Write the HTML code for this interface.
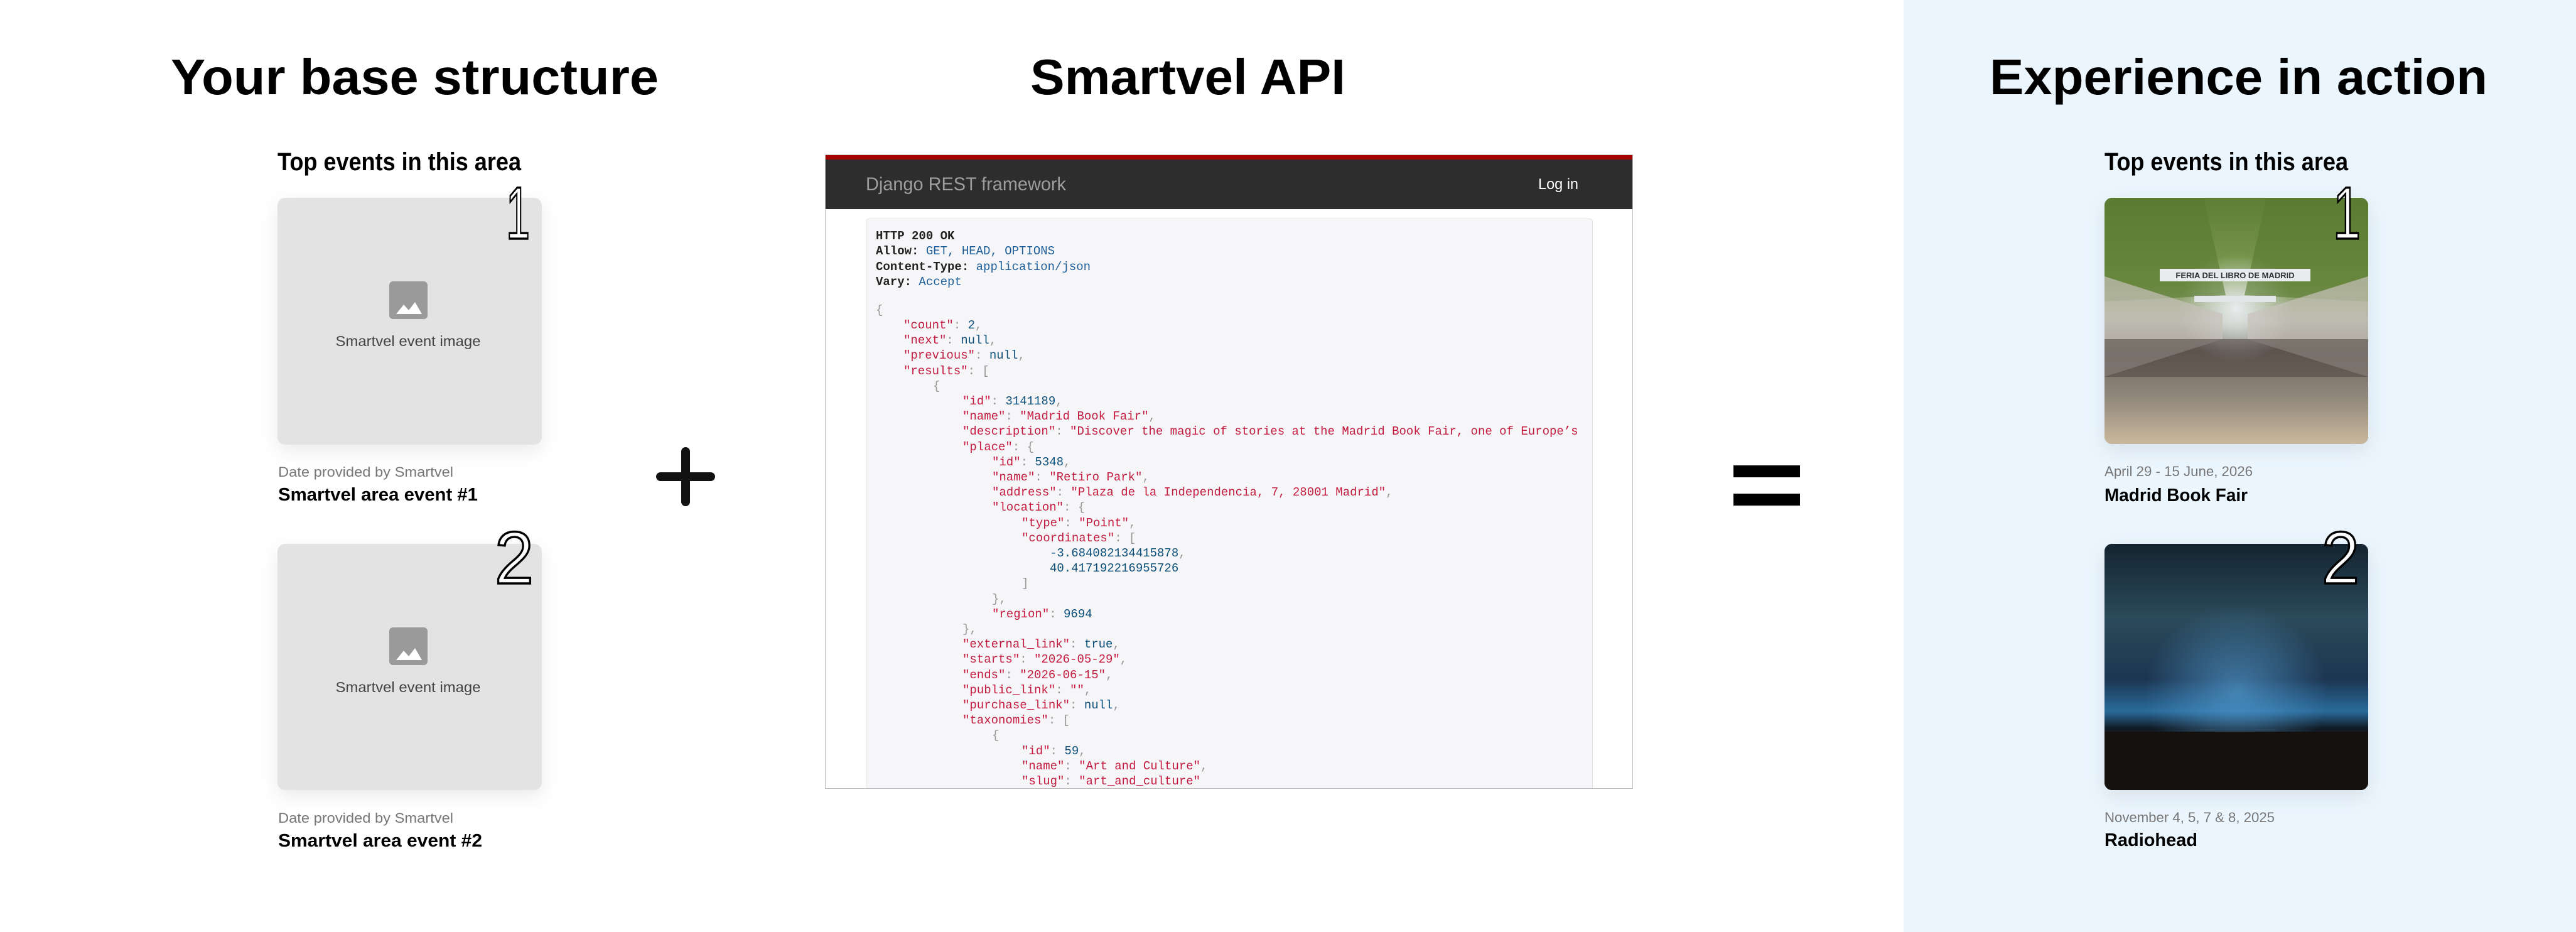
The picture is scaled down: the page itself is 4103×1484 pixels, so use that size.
<!DOCTYPE html>
<html><head><meta charset="utf-8">
<style>
html,body{margin:0;padding:0;background:#fff;}
svg{display:block;}
.h{font-family:"Liberation Sans",sans-serif;font-weight:bold;fill:#000;}
.num{font-family:"Liberation Sans",sans-serif;font-weight:normal;fill:#fff;stroke:#000;stroke-width:3.5;}
.s{font-family:"Liberation Sans",sans-serif;}
.m{font-family:"Liberation Mono",monospace;font-size:19px;}
.k{fill:#c41a3f}.n{fill:#0b4f7a}.p{fill:#999}.b{fill:#222;font-weight:bold}.v{fill:#1f5f99}
</style></head>
<body>
<svg width="4103" height="1484" viewBox="0 0 4103 1484" xmlns="http://www.w3.org/2000/svg">
<defs>
<filter id="sh" x="-20%" y="-20%" width="140%" height="150%"><feDropShadow dx="0" dy="10" stdDeviation="14" flood-color="#000" flood-opacity="0.08"/></filter>
<linearGradient id="g1" x1="0" y1="0" x2="0" y2="1">
<stop offset="0" stop-color="#5e7e35"/><stop offset="0.35" stop-color="#7f9c52"/><stop offset="0.5" stop-color="#a8b09c"/><stop offset="0.62" stop-color="#6f6660"/><stop offset="0.8" stop-color="#8e857a"/><stop offset="1" stop-color="#c9b89c"/></linearGradient>
<radialGradient id="g1c" cx="0.5" cy="0.45" r="0.22"><stop offset="0" stop-color="#e8ecee"/><stop offset="1" stop-color="#e8ecee" stop-opacity="0"/></radialGradient>
<linearGradient id="g2" x1="0" y1="0" x2="0" y2="1">
<stop offset="0" stop-color="#142430"/><stop offset="0.3" stop-color="#2b4a5a"/><stop offset="0.55" stop-color="#1c3550"/><stop offset="0.68" stop-color="#2a6a9a"/><stop offset="0.75" stop-color="#111a24"/><stop offset="1" stop-color="#1a1612"/></linearGradient>
<radialGradient id="g2c" cx="0.5" cy="0.6" r="0.35"><stop offset="0" stop-color="#5aa8e0" stop-opacity="0.6"/><stop offset="1" stop-color="#5aa8e0" stop-opacity="0"/></radialGradient>
<clipPath id="c1"><rect x="3352" y="315" width="420" height="392" rx="12"/></clipPath>
<clipPath id="c2"><rect x="3352" y="866" width="420" height="392" rx="12"/></clipPath>
<clipPath id="api"><rect x="1314" y="246" width="1287" height="1010"/></clipPath>
</defs>

<rect x="3032" y="0" width="1071" height="1484" fill="#eaf5fe"/>

<text class="h" x="272" y="150" font-size="80" textLength="777" lengthAdjust="spacingAndGlyphs">Your base structure</text>
<text class="h" x="1641" y="150" font-size="80" textLength="502" lengthAdjust="spacingAndGlyphs">Smartvel API</text>
<text class="h" x="3169" y="150" font-size="80" textLength="793" lengthAdjust="spacingAndGlyphs">Experience in action</text>

<text class="h" x="442" y="271" font-size="40" textLength="388" lengthAdjust="spacingAndGlyphs">Top events in this area</text>
<g filter="url(#sh)">
<rect x="442" y="315" width="421" height="393" rx="12" fill="#e3e3e3"/>
<rect x="442" y="866" width="421" height="392" rx="12" fill="#e3e3e3"/>
</g>
<g>
<rect x="620" y="448" width="61" height="60" rx="6" fill="#9a9a9a"/>
<path d="M631 500 L643 485 L651 494 L661 481 L672 500 Z" fill="#fff"/>
<text class="s" x="650" y="551" font-size="23" fill="#444" text-anchor="middle" textLength="231" lengthAdjust="spacingAndGlyphs">Smartvel event image</text>
</g>
<g transform="translate(0,551)">
<rect x="620" y="448" width="61" height="60" rx="6" fill="#9a9a9a"/>
<path d="M631 500 L643 485 L651 494 L661 481 L672 500 Z" fill="#fff"/>
<text class="s" x="650" y="551" font-size="23" fill="#444" text-anchor="middle" textLength="231" lengthAdjust="spacingAndGlyphs">Smartvel event image</text>
</g>
<text class="s" x="443" y="759" font-size="22" fill="#777" textLength="279" lengthAdjust="spacingAndGlyphs">Date provided by Smartvel</text>
<text class="h" x="443" y="797" font-size="29" textLength="318" lengthAdjust="spacingAndGlyphs">Smartvel area event #1</text>
<text class="s" x="443" y="1310" font-size="22" fill="#777" textLength="279" lengthAdjust="spacingAndGlyphs">Date provided by Smartvel</text>
<text class="h" x="443" y="1348" font-size="29" textLength="325" lengthAdjust="spacingAndGlyphs">Smartvel area event #2</text>
<text class="num" x="844" y="380" font-size="118" text-anchor="end" textLength="38" lengthAdjust="spacingAndGlyphs">1</text>
<text class="num" x="850" y="929" font-size="118" text-anchor="end" textLength="62" lengthAdjust="spacingAndGlyphs">2</text>

<line x1="1092" y1="719" x2="1092" y2="799" stroke="#111" stroke-width="14" stroke-linecap="round"/>
<line x1="1052" y1="759" x2="1132" y2="759" stroke="#111" stroke-width="14" stroke-linecap="round"/>
<rect x="2761" y="741" width="106" height="19" fill="#000"/>
<rect x="2761" y="786" width="106" height="19" fill="#000"/>

<g clip-path="url(#api)">
<rect x="1314" y="246" width="1287" height="1010" fill="#fff"/>
<rect x="1314" y="246" width="1287" height="8" fill="#a30000"/>
<rect x="1314" y="254" width="1287" height="79" fill="#2d2d2d"/>
<text class="s" x="1379" y="303" font-size="30" fill="#9d9d9d" textLength="319" lengthAdjust="spacingAndGlyphs">Django REST framework</text>
<text class="s" x="2450" y="301" font-size="24" fill="#fff" textLength="64" lengthAdjust="spacingAndGlyphs">Log in</text>
<rect x="1379.5" y="348.5" width="1157" height="940" rx="4" fill="#f6f6f8" stroke="#e1e1e6"/>
<g class="m">
<text x="1395" y="381"><tspan class="b">HTTP 200 OK</tspan></text>
<text x="1395" y="405"><tspan class="b">Allow:</tspan> <tspan class="v">GET, HEAD, OPTIONS</tspan></text>
<text x="1395" y="430"><tspan class="b">Content-Type:</tspan> <tspan class="v">application/json</tspan></text>
<text x="1395" y="454"><tspan class="b">Vary:</tspan> <tspan class="v">Accept</tspan></text>
<text x="1395" y="499" class="p">{</text>
<text x="1439" y="523"><tspan class="k">"count"</tspan><tspan class="p">: </tspan><tspan class="n">2</tspan><tspan class="p">,</tspan></text>
<text x="1439" y="547"><tspan class="k">"next"</tspan><tspan class="p">: </tspan><tspan class="n">null</tspan><tspan class="p">,</tspan></text>
<text x="1439" y="571"><tspan class="k">"previous"</tspan><tspan class="p">: </tspan><tspan class="n">null</tspan><tspan class="p">,</tspan></text>
<text x="1439" y="596"><tspan class="k">"results"</tspan><tspan class="p">: [</tspan></text>
<text x="1486" y="620" class="p">{</text>
<text x="1533" y="644"><tspan class="k">"id"</tspan><tspan class="p">: </tspan><tspan class="n">3141189</tspan><tspan class="p">,</tspan></text>
<text x="1533" y="668"><tspan class="k">"name"</tspan><tspan class="p">: </tspan><tspan class="k">"Madrid Book Fair"</tspan><tspan class="p">,</tspan></text>
<text x="1533" y="692"><tspan class="k">"description"</tspan><tspan class="p">: </tspan><tspan class="k">"Discover the magic of stories at the Madrid Book Fair, one of Europe’s</tspan></text>
<text x="1533" y="717"><tspan class="k">"place"</tspan><tspan class="p">: {</tspan></text>
<text x="1580" y="741"><tspan class="k">"id"</tspan><tspan class="p">: </tspan><tspan class="n">5348</tspan><tspan class="p">,</tspan></text>
<text x="1580" y="765"><tspan class="k">"name"</tspan><tspan class="p">: </tspan><tspan class="k">"Retiro Park"</tspan><tspan class="p">,</tspan></text>
<text x="1580" y="789"><tspan class="k">"address"</tspan><tspan class="p">: </tspan><tspan class="k">"Plaza de la Independencia, 7, 28001 Madrid"</tspan><tspan class="p">,</tspan></text>
<text x="1580" y="813"><tspan class="k">"location"</tspan><tspan class="p">: {</tspan></text>
<text x="1627" y="838"><tspan class="k">"type"</tspan><tspan class="p">: </tspan><tspan class="k">"Point"</tspan><tspan class="p">,</tspan></text>
<text x="1627" y="862"><tspan class="k">"coordinates"</tspan><tspan class="p">: [</tspan></text>
<text x="1672" y="886"><tspan class="n">-3.684082134415878</tspan><tspan class="p">,</tspan></text>
<text x="1672" y="910"><tspan class="n">40.417192216955726</tspan></text>
<text x="1627" y="934" class="p">]</text>
<text x="1580" y="959" class="p">},</text>
<text x="1580" y="983"><tspan class="k">"region"</tspan><tspan class="p">: </tspan><tspan class="n">9694</tspan></text>
<text x="1533" y="1007" class="p">},</text>
<text x="1533" y="1031"><tspan class="k">"external_link"</tspan><tspan class="p">: </tspan><tspan class="n">true</tspan><tspan class="p">,</tspan></text>
<text x="1533" y="1055"><tspan class="k">"starts"</tspan><tspan class="p">: </tspan><tspan class="k">"2026-05-29"</tspan><tspan class="p">,</tspan></text>
<text x="1533" y="1080"><tspan class="k">"ends"</tspan><tspan class="p">: </tspan><tspan class="k">"2026-06-15"</tspan><tspan class="p">,</tspan></text>
<text x="1533" y="1104"><tspan class="k">"public_link"</tspan><tspan class="p">: </tspan><tspan class="k">""</tspan><tspan class="p">,</tspan></text>
<text x="1533" y="1128"><tspan class="k">"purchase_link"</tspan><tspan class="p">: </tspan><tspan class="n">null</tspan><tspan class="p">,</tspan></text>
<text x="1533" y="1152"><tspan class="k">"taxonomies"</tspan><tspan class="p">: [</tspan></text>
<text x="1580" y="1176" class="p">{</text>
<text x="1627" y="1201"><tspan class="k">"id"</tspan><tspan class="p">: </tspan><tspan class="n">59</tspan><tspan class="p">,</tspan></text>
<text x="1627" y="1225"><tspan class="k">"name"</tspan><tspan class="p">: </tspan><tspan class="k">"Art and Culture"</tspan><tspan class="p">,</tspan></text>
<text x="1627" y="1249"><tspan class="k">"slug"</tspan><tspan class="p">: </tspan><tspan class="k">"art_and_culture"</tspan></text>
</g>
</g>
<rect x="1314.5" y="246.5" width="1286" height="1009" fill="none" stroke="#bdbdbd"/>

<text class="h" x="3352" y="271" font-size="40" textLength="388" lengthAdjust="spacingAndGlyphs">Top events in this area</text>
<g filter="url(#sh)">
<rect x="3352" y="315" width="420" height="392" rx="12" fill="#7a8a5a"/>
<rect x="3352" y="866" width="420" height="392" rx="12" fill="#1a1a22"/>
</g>
<g clip-path="url(#c1)">
<rect x="3352" y="315" width="420" height="392" fill="url(#g1)"/>
<rect x="3352" y="315" width="420" height="392" fill="url(#g1c)"/>
<path d="M3352 315 L3510 315 L3545 470 L3352 480 Z" fill="#587a30" opacity="0.6"/>
<path d="M3772 315 L3610 315 L3575 470 L3772 480 Z" fill="#587a30" opacity="0.6"/>
<path d="M3352 440 L3540 500 L3540 540 L3352 600 Z" fill="#c8c2bb" opacity="0.7"/>
<path d="M3772 440 L3580 500 L3580 540 L3772 600 Z" fill="#c8c2bb" opacity="0.7"/>
<rect x="3352" y="540" width="420" height="60" fill="#4e4540" opacity="0.55"/>
<rect x="3440" y="428" width="240" height="20" fill="#e9ecee"/>
<text class="s" x="3560" y="443" font-size="13" font-weight="bold" fill="#333" text-anchor="middle">FERIA DEL LIBRO DE MADRID</text>
<rect x="3495" y="471" width="130" height="10" fill="#e2e4e6"/>
</g>
<g clip-path="url(#c2)">
<rect x="3352" y="866" width="420" height="392" fill="url(#g2)"/>
<rect x="3352" y="866" width="420" height="392" fill="url(#g2c)"/>
<rect x="3352" y="1165" width="420" height="93" fill="#15110e"/>
</g>
<text class="s" x="3352" y="758" font-size="22" fill="#777" textLength="236" lengthAdjust="spacingAndGlyphs">April 29 - 15 June, 2026</text>
<text class="h" x="3352" y="798" font-size="29" textLength="228" lengthAdjust="spacingAndGlyphs">Madrid Book Fair</text>
<text class="s" x="3352" y="1309" font-size="22" fill="#777" textLength="271" lengthAdjust="spacingAndGlyphs">November 4, 5, 7 &amp; 8, 2025</text>
<text class="h" x="3352" y="1347" font-size="29" textLength="148" lengthAdjust="spacingAndGlyphs">Radiohead</text>
<text class="num" x="3760" y="380" font-size="118" text-anchor="end" textLength="44" lengthAdjust="spacingAndGlyphs">1</text>
<text class="num" x="3758" y="929" font-size="118" text-anchor="end" textLength="60" lengthAdjust="spacingAndGlyphs">2</text>
</svg>
</body></html>
